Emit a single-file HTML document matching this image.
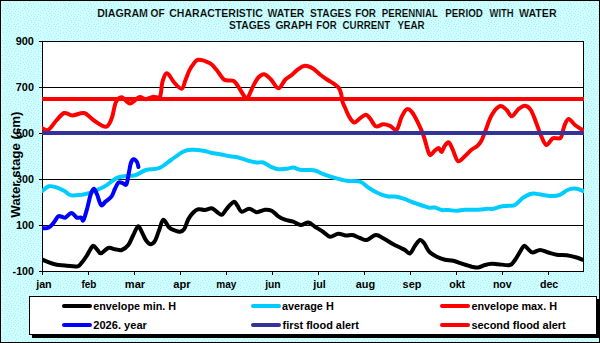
<!DOCTYPE html><html><head><meta charset="utf-8"><style>html,body{margin:0;padding:0;background:#CCFFFF;}svg{display:block;}</style></head><body><svg width="600" height="343" viewBox="0 0 600 343">
<defs><filter id="bl" x="0" y="0" width="100%" height="100%"><feGaussianBlur stdDeviation="0.45"/></filter><pattern id="dp" x="1" y="0" width="20" height="15" patternUnits="userSpaceOnUse"><rect width="20" height="15" fill="#CCFFFF"/><g fill="#BAE8F0"><rect x="6" y="0" width="1" height="1"/><rect x="10" y="0" width="1" height="1"/><rect x="19" y="0" width="1" height="1"/><rect x="8" y="1" width="1" height="1"/><rect x="13" y="1" width="1" height="1"/><rect x="16" y="1" width="1" height="1"/><rect x="2" y="2" width="1" height="1"/><rect x="5" y="2" width="1" height="1"/><rect x="9" y="3" width="1" height="1"/><rect x="12" y="3" width="1" height="1"/><rect x="15" y="3" width="1" height="1"/><rect x="19" y="3" width="1" height="1"/><rect x="3" y="4" width="1" height="1"/><rect x="7" y="4" width="1" height="1"/><rect x="10" y="5" width="1" height="1"/><rect x="14" y="5" width="1" height="1"/><rect x="17" y="5" width="1" height="1"/><rect x="4" y="6" width="1" height="1"/><rect x="7" y="6" width="1" height="1"/><rect x="19" y="6" width="1" height="1"/><rect x="10" y="7" width="1" height="1"/><rect x="13" y="7" width="1" height="1"/><rect x="3" y="8" width="1" height="1"/><rect x="6" y="8" width="1" height="1"/><rect x="17" y="8" width="1" height="1"/><rect x="8" y="9" width="1" height="1"/><rect x="12" y="9" width="1" height="1"/><rect x="15" y="9" width="1" height="1"/><rect x="1" y="10" width="1" height="1"/><rect x="4" y="10" width="1" height="1"/><rect x="7" y="11" width="1" height="1"/><rect x="10" y="11" width="1" height="1"/><rect x="14" y="11" width="1" height="1"/><rect x="17" y="11" width="1" height="1"/><rect x="19" y="12" width="1" height="1"/><rect x="2" y="13" width="1" height="1"/><rect x="5" y="13" width="1" height="1"/><rect x="9" y="13" width="1" height="1"/><rect x="12" y="13" width="1" height="1"/><rect x="14" y="14" width="1" height="1"/><rect x="17" y="14" width="1" height="1"/></g></pattern><clipPath id="pc"><rect x="42" y="30" width="542" height="242"/></clipPath></defs>
<rect x="0" y="0" width="600" height="343" fill="url(#dp)" filter="url(#bl)"/>
<rect x="0.5" y="0.5" width="599" height="342" fill="none" stroke="#000" stroke-width="1"/>
<g font-family="Liberation Sans, sans-serif" font-weight="bold" fill="#000" stroke="#CCFFFF" stroke-width="0.15">
<text x="97.18" y="17" font-size="11" textLength="50.82" lengthAdjust="spacingAndGlyphs">DIAGRAM</text>
<text x="150.59" y="17" font-size="11" textLength="14.08" lengthAdjust="spacingAndGlyphs">OF</text>
<text x="169.27" y="17" font-size="11" textLength="93.52" lengthAdjust="spacingAndGlyphs">CHARACTERISTIC</text>
<text x="267.49" y="17" font-size="11" textLength="36.92" lengthAdjust="spacingAndGlyphs">WATER</text>
<text x="310.00" y="17" font-size="11" textLength="41.19" lengthAdjust="spacingAndGlyphs">STAGES</text>
<text x="355.14" y="17" font-size="11" textLength="20.86" lengthAdjust="spacingAndGlyphs">FOR</text>
<text x="381.85" y="17" font-size="11" textLength="55.95" lengthAdjust="spacingAndGlyphs">PERENNIAL</text>
<text x="445.34" y="17" font-size="11" textLength="37.47" lengthAdjust="spacingAndGlyphs">PERIOD</text>
<text x="489.59" y="17" font-size="11" textLength="24.04" lengthAdjust="spacingAndGlyphs">WITH</text>
<text x="518.99" y="17" font-size="11" textLength="37.63" lengthAdjust="spacingAndGlyphs">WATER</text>
<text x="228.90" y="29" font-size="11" textLength="41.49" lengthAdjust="spacingAndGlyphs">STAGES</text>
<text x="275.38" y="29" font-size="11" textLength="37.01" lengthAdjust="spacingAndGlyphs">GRAPH</text>
<text x="316.36" y="29" font-size="11" textLength="20.24" lengthAdjust="spacingAndGlyphs">FOR</text>
<text x="342.60" y="29" font-size="11" textLength="47.50" lengthAdjust="spacingAndGlyphs">CURRENT</text>
<text x="397.43" y="29" font-size="11" textLength="27.17" lengthAdjust="spacingAndGlyphs">YEAR</text>
</g>
<rect x="42.5" y="41.5" width="541" height="230" fill="#fff" stroke="#000" stroke-width="1"/>
<line x1="42" y1="87.5" x2="584" y2="87.5" stroke="#000" stroke-width="1"/>
<line x1="42" y1="133.5" x2="584" y2="133.5" stroke="#000" stroke-width="1"/>
<line x1="42" y1="179.5" x2="584" y2="179.5" stroke="#000" stroke-width="1"/>
<line x1="42" y1="225.5" x2="584" y2="225.5" stroke="#000" stroke-width="1"/>
<line x1="39" y1="41.5" x2="42" y2="41.5" stroke="#000" stroke-width="1"/>
<line x1="39" y1="87.5" x2="42" y2="87.5" stroke="#000" stroke-width="1"/>
<line x1="39" y1="133.5" x2="42" y2="133.5" stroke="#000" stroke-width="1"/>
<line x1="39" y1="179.5" x2="42" y2="179.5" stroke="#000" stroke-width="1"/>
<line x1="39" y1="225.5" x2="42" y2="225.5" stroke="#000" stroke-width="1"/>
<line x1="39" y1="271.5" x2="42" y2="271.5" stroke="#000" stroke-width="1"/>
<line x1="42.5" y1="271" x2="42.5" y2="275" stroke="#000" stroke-width="1"/>
<line x1="88.5" y1="271" x2="88.5" y2="275" stroke="#000" stroke-width="1"/>
<line x1="134.5" y1="271" x2="134.5" y2="275" stroke="#000" stroke-width="1"/>
<line x1="180.5" y1="271" x2="180.5" y2="275" stroke="#000" stroke-width="1"/>
<line x1="226.5" y1="271" x2="226.5" y2="275" stroke="#000" stroke-width="1"/>
<line x1="272.5" y1="271" x2="272.5" y2="275" stroke="#000" stroke-width="1"/>
<line x1="318.5" y1="271" x2="318.5" y2="275" stroke="#000" stroke-width="1"/>
<line x1="364.5" y1="271" x2="364.5" y2="275" stroke="#000" stroke-width="1"/>
<line x1="410.5" y1="271" x2="410.5" y2="275" stroke="#000" stroke-width="1"/>
<line x1="456.5" y1="271" x2="456.5" y2="275" stroke="#000" stroke-width="1"/>
<line x1="502.5" y1="271" x2="502.5" y2="275" stroke="#000" stroke-width="1"/>
<line x1="548.5" y1="271" x2="548.5" y2="275" stroke="#000" stroke-width="1"/>
<g font-family="Liberation Sans, sans-serif" font-weight="bold" fill="#000">
<text x="15.72" y="44.6" font-size="11" textLength="18.22" lengthAdjust="spacingAndGlyphs">900</text>
<text x="15.79" y="90.6" font-size="11" textLength="18.15" lengthAdjust="spacingAndGlyphs">700</text>
<text x="15.97" y="136.6" font-size="11" textLength="17.97" lengthAdjust="spacingAndGlyphs">500</text>
<text x="16.06" y="182.6" font-size="11" textLength="17.87" lengthAdjust="spacingAndGlyphs">300</text>
<text x="15.92" y="228.6" font-size="11" textLength="18.01" lengthAdjust="spacingAndGlyphs">100</text>
<text x="12.58" y="274.6" font-size="11" textLength="21.35" lengthAdjust="spacingAndGlyphs">-100</text>
</g>
<g font-family="Liberation Sans, sans-serif" font-weight="bold" fill="#000">
<text x="36.17" y="288" font-size="11" textLength="15.50" lengthAdjust="spacingAndGlyphs">jan</text>
<text x="81.43" y="288" font-size="11" textLength="14.98" lengthAdjust="spacingAndGlyphs">feb</text>
<text x="124.87" y="288" font-size="11" textLength="20.30" lengthAdjust="spacingAndGlyphs">mar</text>
<text x="173.28" y="288" font-size="11" textLength="17.29" lengthAdjust="spacingAndGlyphs">apr</text>
<text x="216.33" y="288" font-size="11" textLength="20.12" lengthAdjust="spacingAndGlyphs">may</text>
<text x="265.16" y="288" font-size="11" textLength="15.47" lengthAdjust="spacingAndGlyphs">jun</text>
<text x="313.17" y="288" font-size="11" textLength="12.59" lengthAdjust="spacingAndGlyphs">jul</text>
<text x="355.68" y="288" font-size="11" textLength="19.45" lengthAdjust="spacingAndGlyphs">aug</text>
<text x="402.61" y="288" font-size="11" textLength="18.83" lengthAdjust="spacingAndGlyphs">sep</text>
<text x="449.18" y="288" font-size="11" textLength="15.94" lengthAdjust="spacingAndGlyphs">okt</text>
<text x="492.90" y="288" font-size="11" textLength="18.74" lengthAdjust="spacingAndGlyphs">nov</text>
<text x="539.96" y="288" font-size="11" textLength="18.35" lengthAdjust="spacingAndGlyphs">dec</text>
</g>
<g transform="rotate(-90)" font-family="Liberation Sans, sans-serif" font-weight="bold" fill="#000"><text x="-217.81" y="19.9" font-size="13" textLength="106.27" lengthAdjust="spacingAndGlyphs" xml:space="preserve">Water stage (cm)</text></g>
<g fill="none" stroke-width="4" stroke-linejoin="round" stroke-linecap="round" clip-path="url(#pc)">
<path d="M42.5 259.7 C43.5 260.1 45.9 261.3 48.3 262.2 C50.7 263.1 53.9 264.2 56.7 264.8 C59.5 265.4 61.7 265.2 65.0 265.5 C68.3 265.8 74.3 266.4 76.7 266.4 C79.1 266.4 78.2 266.4 79.2 265.6 C80.2 264.8 81.2 263.3 82.5 261.7 C83.8 260.1 85.5 257.8 86.7 255.8 C88.0 253.9 88.9 251.7 90.0 250.0 C91.1 248.3 92.0 245.8 93.3 245.8 C94.5 245.8 96.2 248.8 97.5 250.0 C98.8 251.2 99.0 253.6 100.8 253.3 C102.6 253.0 105.9 248.7 108.3 248.0 C110.7 247.3 112.8 248.9 115.0 249.2 C117.2 249.5 119.5 250.7 121.7 250.0 C123.9 249.3 126.4 247.5 128.3 245.0 C130.2 242.5 131.7 238.1 133.3 235.0 C134.9 231.9 136.6 226.9 138.0 226.3 C139.4 225.8 140.4 229.4 141.7 231.7 C143.0 234.0 144.3 237.9 145.8 240.0 C147.3 242.1 149.3 244.1 150.8 244.2 C152.3 244.3 153.6 243.2 155.0 240.8 C156.4 238.4 157.8 233.5 159.2 230.0 C160.6 226.5 161.6 220.1 163.3 219.7 C165.0 219.3 167.2 225.7 169.2 227.5 C171.1 229.3 173.2 229.8 175.0 230.5 C176.8 231.2 178.5 231.9 180.0 231.7 C181.5 231.5 182.8 231.3 184.2 229.2 C185.6 227.1 186.8 222.0 188.3 219.2 C189.8 216.4 191.6 214.2 193.3 212.5 C195.0 210.8 196.4 209.6 198.3 209.2 C200.2 208.8 202.8 210.2 205.0 210.0 C207.2 209.8 209.8 208.0 211.7 208.3 C213.6 208.6 215.0 210.6 216.7 211.7 C218.4 212.8 220.2 215.0 221.7 214.7 C223.2 214.4 224.6 211.5 225.8 210.0 C227.1 208.5 227.8 207.2 229.2 205.8 C230.6 204.4 232.8 201.7 234.2 201.7 C235.6 201.7 236.2 204.1 237.5 205.8 C238.8 207.5 239.8 211.2 241.7 211.7 C243.6 212.2 246.7 208.6 249.2 208.7 C251.7 208.8 254.1 212.0 256.7 212.2 C259.3 212.4 262.5 209.9 265.0 209.7 C267.5 209.5 269.5 209.7 271.7 210.8 C273.9 211.9 276.1 214.8 278.3 216.3 C280.5 217.8 282.5 218.8 285.0 219.7 C287.5 220.6 290.7 220.8 293.3 221.7 C295.9 222.6 298.3 224.9 300.8 225.0 C303.3 225.1 305.9 222.2 308.3 222.5 C310.7 222.8 312.5 225.1 315.0 226.7 C317.5 228.3 320.8 230.3 323.3 232.0 C325.8 233.7 327.5 236.4 330.0 236.7 C332.5 237.0 335.7 233.9 338.3 233.7 C340.9 233.5 343.4 235.3 345.8 235.5 C348.2 235.7 350.1 234.6 352.5 235.0 C354.9 235.4 357.6 237.2 360.0 238.0 C362.4 238.8 364.1 240.5 366.7 240.0 C369.3 239.5 373.0 235.3 375.8 235.0 C378.6 234.7 380.4 236.8 383.3 238.3 C386.2 239.8 390.5 242.7 393.3 244.2 C396.1 245.7 398.1 246.5 400.0 247.5 C401.9 248.5 403.3 249.0 405.0 250.0 C406.7 251.0 408.3 254.0 410.0 253.3 C411.7 252.6 413.3 248.0 415.0 245.8 C416.7 243.6 418.5 240.4 420.0 240.0 C421.5 239.6 422.7 241.4 424.2 243.3 C425.7 245.2 427.1 249.5 429.2 251.7 C431.3 253.9 434.1 255.4 436.7 256.7 C439.3 258.0 442.2 259.0 445.0 259.7 C447.8 260.4 450.2 260.1 453.3 260.8 C456.4 261.6 460.2 263.2 463.3 264.2 C466.4 265.2 469.2 266.1 471.7 266.7 C474.2 267.2 476.1 267.8 478.3 267.5 C480.5 267.2 482.8 265.6 485.0 265.0 C487.2 264.4 489.5 263.9 491.7 263.8 C493.9 263.7 495.2 264.0 498.3 264.2 C501.4 264.4 507.2 265.7 510.0 265.0 C512.8 264.3 513.3 262.2 515.0 260.0 C516.7 257.8 518.5 254.1 520.0 251.7 C521.5 249.3 522.8 246.2 524.2 245.8 C525.6 245.4 526.9 248.1 528.3 249.2 C529.7 250.3 530.5 252.4 532.5 252.5 C534.5 252.6 537.4 250.0 540.0 250.0 C542.6 250.0 545.5 251.7 548.3 252.5 C551.1 253.3 553.6 254.2 556.7 254.7 C559.8 255.2 563.4 254.8 566.7 255.3 C570.0 255.8 574.1 256.8 576.7 257.5 C579.3 258.2 581.5 259.3 582.5 259.7" stroke="#000"/>
<path d="M42.5 190.8 C43.5 190.1 46.6 186.9 48.8 186.3 C51.0 185.7 53.1 186.4 55.8 187.2 C58.4 188.0 62.0 189.7 64.5 191.0 C67.0 192.3 68.0 194.4 70.6 195.1 C73.2 195.8 77.2 195.2 80.3 194.9 C83.4 194.6 86.1 194.0 89.0 193.1 C91.9 192.2 95.0 190.8 97.8 189.6 C100.5 188.4 102.5 187.8 105.5 185.9 C108.5 184.0 112.9 180.0 116.0 178.4 C119.1 176.8 120.7 176.8 123.9 176.2 C127.1 175.7 131.6 176.3 135.2 175.3 C138.9 174.3 141.8 171.2 145.8 170.0 C149.7 168.8 154.8 169.9 159.0 168.2 C163.2 166.5 166.9 162.8 171.0 160.0 C175.1 157.2 180.0 153.2 183.5 151.5 C187.0 149.8 188.7 149.9 192.0 149.8 C195.3 149.7 199.8 150.2 203.3 150.8 C206.9 151.4 210.5 152.7 213.3 153.3 C216.1 153.9 217.2 153.7 220.0 154.2 C222.8 154.7 226.9 155.8 230.0 156.3 C233.1 156.9 235.2 156.8 238.3 157.5 C241.4 158.2 245.2 160.0 248.3 160.8 C251.4 161.6 254.2 162.2 256.7 162.5 C259.2 162.8 260.8 161.7 263.3 162.5 C265.8 163.3 269.2 166.1 271.7 167.2 C274.2 168.3 275.8 168.9 278.3 169.2 C280.8 169.5 284.2 169.1 286.7 168.8 C289.2 168.5 291.1 167.3 293.3 167.5 C295.5 167.7 297.5 169.3 300.0 169.7 C302.5 170.1 305.7 169.8 308.3 170.0 C310.9 170.2 313.3 170.1 315.8 170.8 C318.3 171.5 320.4 173.1 323.3 174.2 C326.2 175.3 329.4 176.4 333.3 177.5 C337.2 178.6 342.2 180.1 346.7 180.8 C351.1 181.5 356.4 180.6 360.0 181.7 C363.6 182.8 365.5 185.7 368.3 187.5 C371.1 189.3 373.6 191.0 376.7 192.5 C379.8 194.0 383.4 195.6 386.7 196.3 C390.0 197.0 393.6 196.2 396.7 196.7 C399.8 197.2 402.2 198.2 405.0 199.2 C407.8 200.2 409.4 201.1 413.3 202.5 C417.2 203.9 424.7 206.7 428.3 207.5 C431.9 208.3 432.8 207.1 435.0 207.5 C437.2 207.9 439.5 209.6 441.7 210.0 C443.9 210.4 445.8 209.9 448.3 210.0 C450.8 210.1 453.9 210.9 456.7 210.8 C459.5 210.8 461.4 209.9 465.0 209.7 C468.6 209.5 474.7 209.8 478.3 209.7 C481.9 209.5 484.2 209.0 486.7 208.8 C489.2 208.7 491.1 209.2 493.3 208.8 C495.5 208.5 497.5 207.2 500.0 206.7 C502.5 206.2 505.8 206.1 508.3 205.8 C510.8 205.5 512.6 206.3 515.0 205.0 C517.4 203.7 519.8 200.1 522.5 198.2 C525.2 196.4 528.8 194.4 531.5 193.8 C534.2 193.1 535.8 193.8 539.0 194.2 C542.2 194.6 547.5 195.9 551.0 196.0 C554.5 196.1 557.2 195.8 560.0 194.8 C562.8 193.8 565.0 191.1 567.5 190.0 C570.0 188.9 572.4 188.3 575.0 188.5 C577.6 188.7 581.9 190.6 583.2 191.0" stroke="#00CCFF"/>
<path d="M42.5 128.3 C43.5 128.6 45.9 131.4 48.3 130.0 C50.7 128.6 54.1 122.8 56.7 120.0 C59.4 117.2 61.6 113.8 64.2 113.0 C66.8 112.2 69.2 115.5 72.5 115.5 C75.8 115.5 80.7 112.2 84.2 113.0 C87.7 113.8 89.7 117.7 93.3 120.0 C96.9 122.3 102.7 127.0 105.8 126.7 C108.9 126.4 110.0 122.3 111.7 118.3 C113.4 114.3 114.1 106.0 115.8 102.5 C117.5 99.0 119.3 97.0 121.7 97.2 C124.1 97.4 127.1 103.5 130.0 103.5 C132.9 103.5 136.6 97.9 139.2 97.2 C141.8 96.5 143.5 99.3 145.8 99.2 C148.2 99.1 150.9 97.1 153.3 96.7 C155.7 96.3 158.5 99.2 160.0 96.7 C161.5 94.2 161.3 85.6 162.5 81.7 C163.7 77.8 165.1 73.2 167.0 73.3 C168.9 73.4 171.8 79.9 174.2 82.5 C176.6 85.1 179.8 89.1 181.7 88.7 C183.6 88.3 184.2 83.0 185.5 80.0 C186.8 77.0 188.0 73.2 189.3 70.5 C190.6 67.8 192.0 65.8 193.5 64.0 C195.0 62.2 195.6 59.8 198.3 59.7 C201.1 59.6 206.9 61.6 210.0 63.3 C213.1 65.0 214.3 67.3 216.7 70.0 C219.1 72.7 221.4 77.9 224.2 79.7 C227.0 81.5 231.0 79.6 233.3 80.8 C235.7 82.0 236.6 84.3 238.3 86.7 C240.0 89.1 242.0 93.0 243.5 95.0 C245.0 97.0 245.6 100.0 247.2 98.5 C248.8 97.0 251.5 89.3 253.3 85.8 C255.2 82.3 256.5 79.4 258.3 77.5 C260.1 75.6 262.1 73.9 264.2 74.2 C266.3 74.5 268.4 76.9 270.8 79.2 C273.2 81.5 275.9 88.2 278.3 88.3 C280.7 88.4 282.8 82.2 285.0 80.0 C287.2 77.8 289.5 76.8 291.7 75.0 C293.9 73.2 296.1 70.7 298.3 69.2 C300.5 67.7 302.5 65.9 305.0 65.8 C307.5 65.7 310.8 67.3 313.3 68.8 C315.8 70.2 317.7 72.7 320.0 74.5 C322.3 76.3 324.7 78.0 327.0 79.5 C329.3 81.0 332.1 82.5 334.0 83.8 C335.9 85.1 337.3 85.9 338.5 87.5 C339.7 89.1 340.3 90.9 341.0 93.3 C341.7 95.7 341.8 99.3 342.5 101.7 C343.2 104.1 343.9 105.0 345.0 107.5 C346.1 110.0 347.7 114.2 349.2 116.7 C350.7 119.2 352.4 122.2 354.2 122.5 C356.0 122.8 358.1 119.6 360.0 118.3 C361.9 117.0 364.1 114.7 365.8 114.7 C367.5 114.7 368.3 116.4 370.0 118.3 C371.7 120.2 373.6 125.3 375.8 126.3 C378.0 127.3 380.9 124.3 383.3 124.2 C385.7 124.1 387.8 124.9 390.0 125.8 C392.2 126.7 394.8 131.2 396.7 129.7 C398.6 128.2 400.0 120.1 401.7 116.7 C403.4 113.3 405.0 110.0 406.7 109.2 C408.4 108.4 409.8 109.4 411.7 111.7 C413.6 114.0 416.4 119.4 418.3 123.3 C420.2 127.2 421.6 130.2 423.3 135.0 C425.0 139.8 427.2 148.7 428.4 152.0 C429.6 155.3 429.4 155.3 430.4 155.1 C431.4 154.9 433.1 152.2 434.5 151.0 C435.9 149.8 437.4 147.8 438.6 148.0 C439.8 148.2 440.6 152.3 441.6 152.0 C442.6 151.7 443.5 147.5 444.7 145.9 C445.9 144.3 447.4 141.7 448.8 142.4 C450.2 143.1 451.4 146.9 452.9 150.0 C454.4 153.1 456.0 160.2 458.0 161.2 C460.0 162.2 462.9 158.0 465.1 156.1 C467.3 154.2 469.2 151.7 471.2 150.0 C473.2 148.3 475.6 147.4 477.3 145.9 C479.0 144.4 480.0 143.4 481.4 140.8 C482.8 138.2 483.8 134.8 485.5 130.6 C487.2 126.3 489.2 119.4 491.6 115.3 C494.0 111.2 497.3 107.0 499.8 106.1 C502.3 105.2 504.7 108.3 506.7 110.0 C508.7 111.7 509.8 116.4 511.7 116.3 C513.6 116.2 516.1 111.0 518.3 109.2 C520.5 107.5 522.9 105.7 525.0 105.8 C527.1 105.9 529.0 107.3 530.8 110.0 C532.6 112.7 534.1 117.5 535.8 121.7 C537.5 125.9 539.0 131.1 540.8 135.0 C542.5 138.9 544.3 144.4 546.3 145.0 C548.2 145.6 550.7 139.6 552.5 138.5 C554.3 137.4 555.6 138.5 557.0 138.3 C558.4 138.1 559.8 139.4 561.0 137.3 C562.2 135.2 563.2 128.6 564.5 125.5 C565.8 122.5 566.9 119.1 568.6 119.0 C570.4 118.9 572.7 123.2 575.0 125.0 C577.3 126.8 581.2 129.2 582.5 130.0" stroke="#FF0000"/>
<path d="M42.5 228.3 C43.2 228.3 45.7 228.4 47.0 228.1 C48.3 227.8 49.2 227.4 50.5 226.3 C51.8 225.2 53.2 223.2 54.5 221.5 C55.8 219.8 57.2 217.0 58.4 216.2 C59.6 215.4 60.7 216.6 61.9 216.8 C63.1 217.0 63.8 218.2 65.4 217.6 C67.0 216.9 69.6 212.9 71.5 212.9 C73.4 212.9 75.2 216.8 76.8 217.6 C78.4 218.4 80.0 217.1 81.1 217.6 C82.2 218.1 82.4 221.9 83.4 220.3 C84.4 218.7 86.1 212.4 87.3 208.0 C88.5 203.6 89.7 197.2 90.8 194.0 C91.9 190.8 92.9 188.8 93.9 188.8 C94.9 188.8 95.7 191.3 96.9 194.0 C98.1 196.7 99.7 203.8 101.1 205.1 C102.5 206.4 103.8 203.0 105.5 201.6 C107.2 200.2 110.0 198.6 111.6 196.4 C113.2 194.2 113.9 190.8 115.1 188.5 C116.3 186.2 117.3 183.3 118.6 182.4 C119.9 181.5 121.7 183.0 123.0 183.3 C124.3 183.6 125.5 186.1 126.5 184.1 C127.5 182.1 128.4 175.0 129.1 171.5 C129.8 168.0 130.2 165.1 130.9 163.0 C131.6 160.9 132.5 159.4 133.5 159.2 C134.5 159.0 136.2 160.7 137.0 162.0 C137.8 163.3 138.2 166.2 138.4 167.0" stroke="#0000FF"/>
<line x1="42" y1="133" x2="584" y2="133" stroke="#333399" stroke-linecap="butt"/>
<line x1="42" y1="99" x2="584" y2="99" stroke="#FF0000" stroke-linecap="butt"/>
</g>
<rect x="32" y="299" width="567" height="39" fill="#000"/>
<rect x="29.5" y="296.5" width="567" height="38" fill="#fff" stroke="#000" stroke-width="1"/>
<g font-family="Liberation Sans, sans-serif" font-weight="bold" fill="#000">
<line x1="64" y1="306" x2="90" y2="306" stroke="#000" stroke-width="4" stroke-linecap="round"/>
<text x="93.28" y="310.0" font-size="11" textLength="82.75" lengthAdjust="spacingAndGlyphs" xml:space="preserve">envelope min. H</text>
<line x1="253" y1="306" x2="279" y2="306" stroke="#00CCFF" stroke-width="4" stroke-linecap="round"/>
<text x="281.88" y="310.0" font-size="11" textLength="51.85" lengthAdjust="spacingAndGlyphs" xml:space="preserve">average H</text>
<line x1="442" y1="306" x2="468" y2="306" stroke="#FF0000" stroke-width="4" stroke-linecap="round"/>
<text x="471.38" y="310.0" font-size="11" textLength="85.66" lengthAdjust="spacingAndGlyphs" xml:space="preserve">envelope max. H</text>
<line x1="64" y1="325" x2="90" y2="325" stroke="#0000FF" stroke-width="4" stroke-linecap="round"/>
<text x="93.32" y="329.0" font-size="11" textLength="53.55" lengthAdjust="spacingAndGlyphs" xml:space="preserve">2026. year</text>
<line x1="253" y1="325" x2="279" y2="325" stroke="#333399" stroke-width="4" stroke-linecap="round"/>
<text x="282.51" y="329.0" font-size="11" textLength="76.42" lengthAdjust="spacingAndGlyphs" xml:space="preserve">first flood alert</text>
<line x1="442" y1="325" x2="468" y2="325" stroke="#FF0000" stroke-width="4" stroke-linecap="round"/>
<text x="471.41" y="329.0" font-size="11" textLength="94.32" lengthAdjust="spacingAndGlyphs" xml:space="preserve">second flood alert</text>
</g>
</svg></body></html>
